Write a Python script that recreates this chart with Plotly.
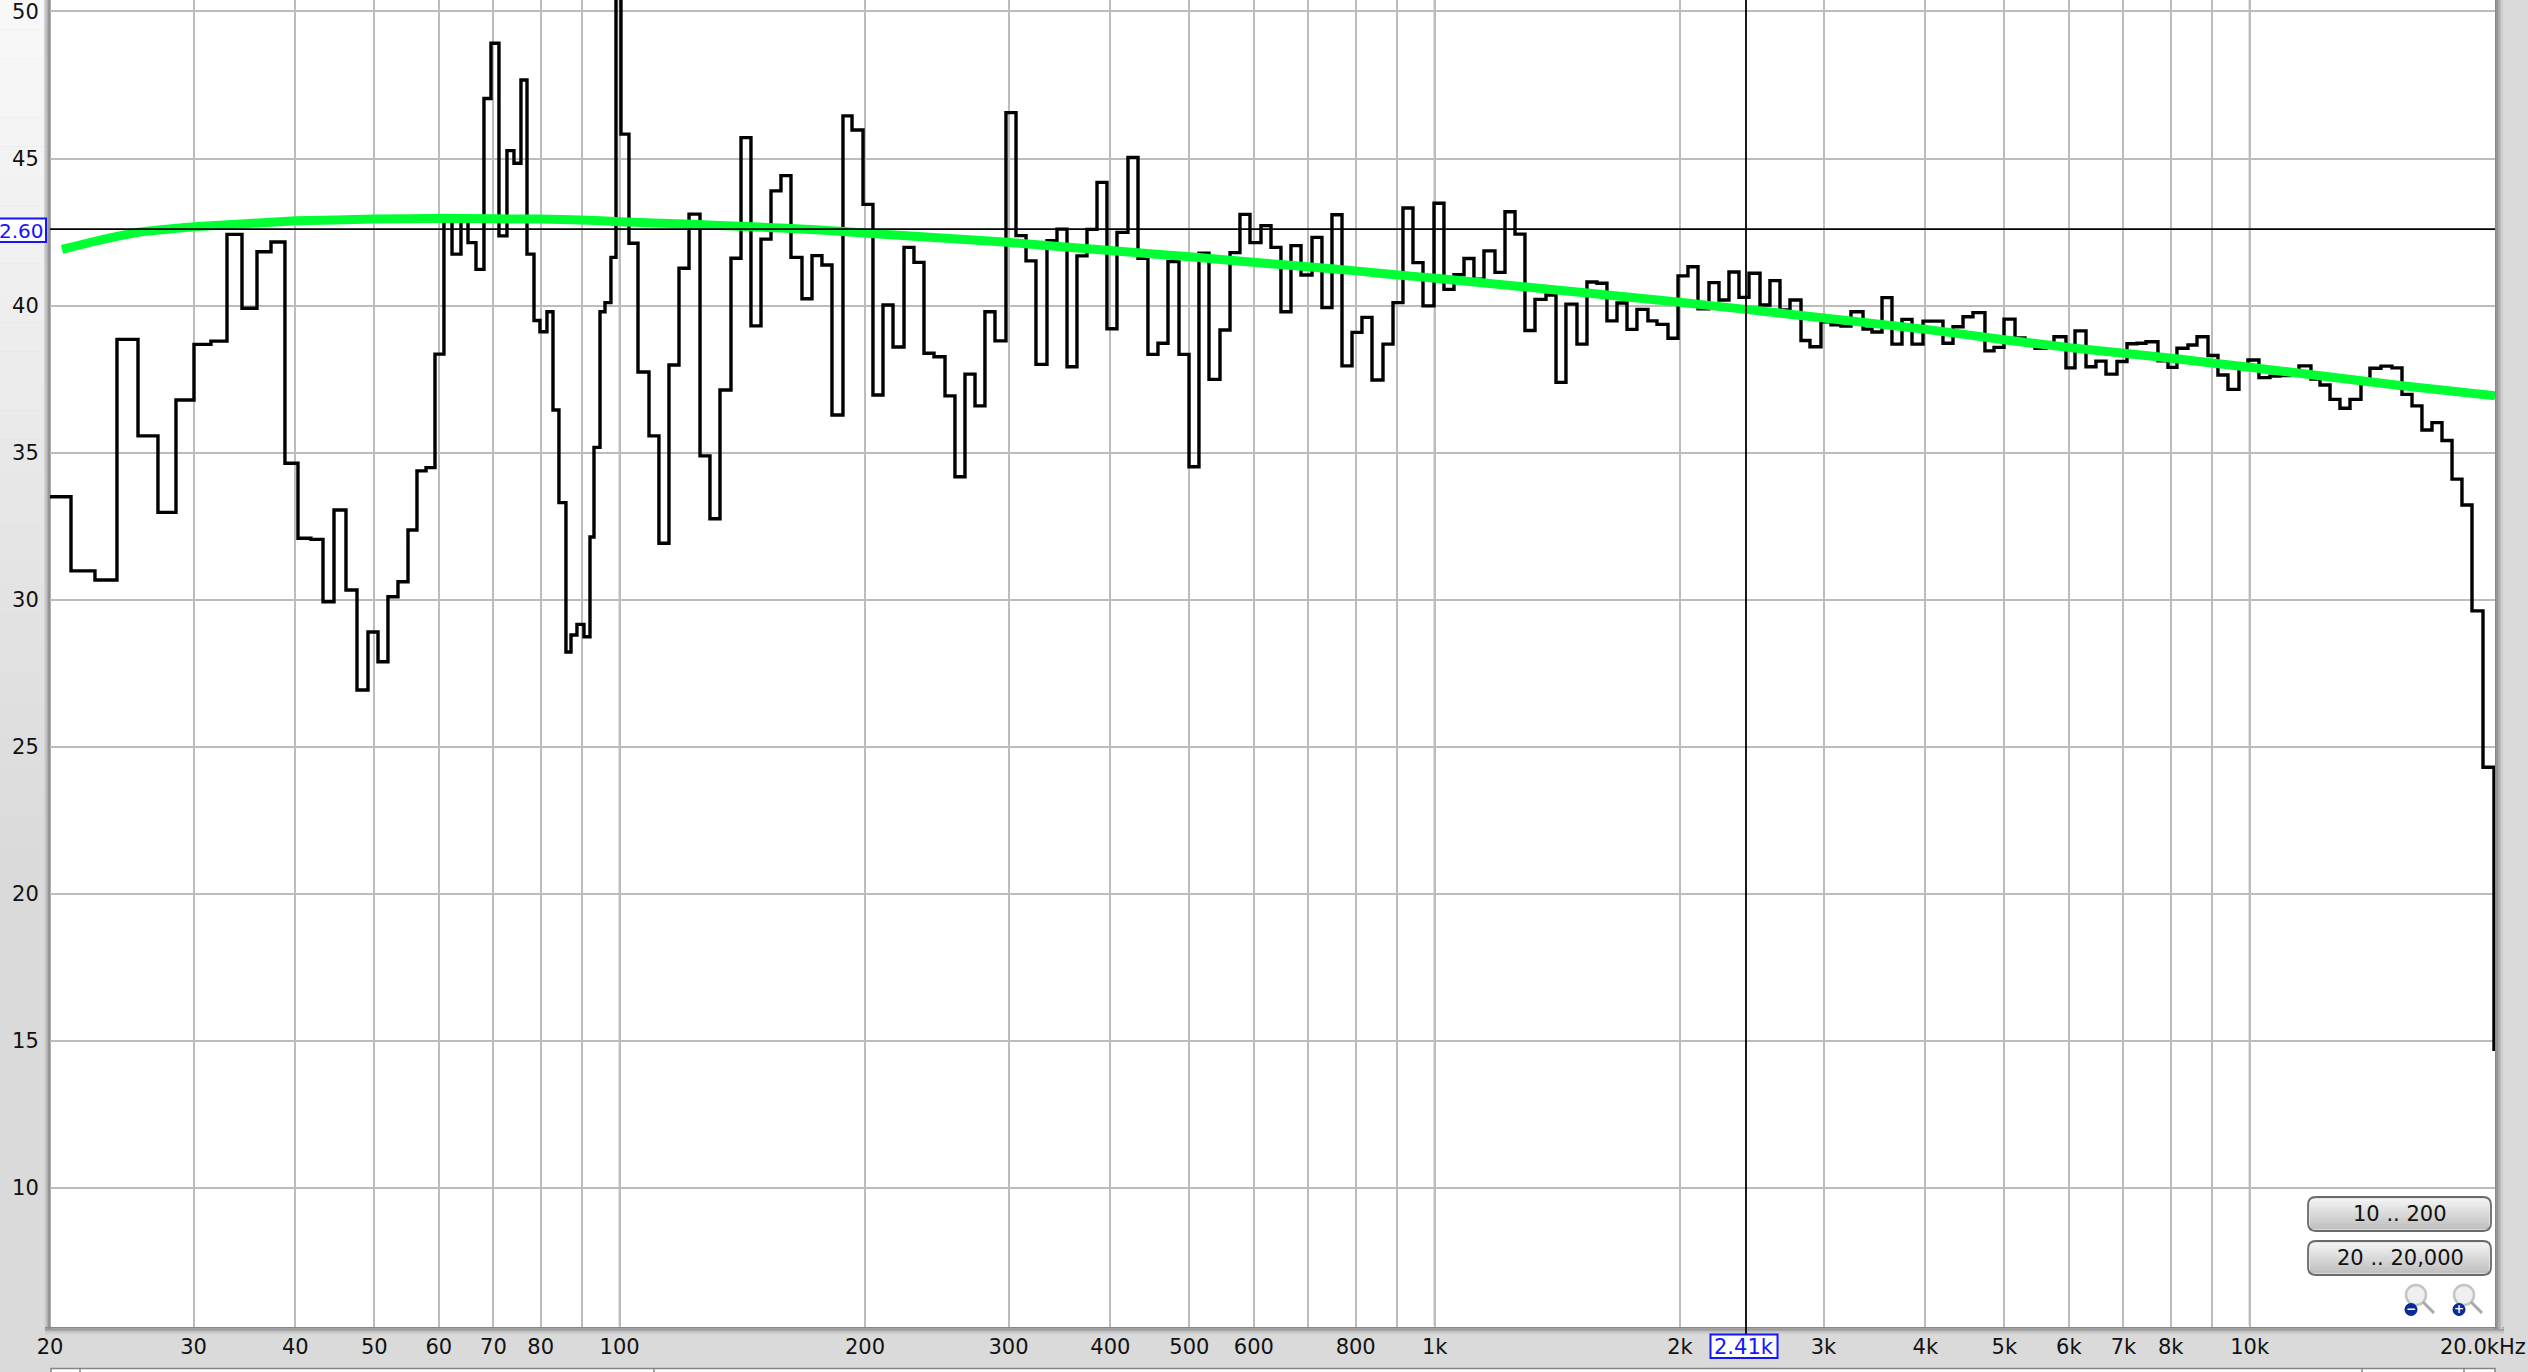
import numpy as np
import plotly.graph_objects as go

# ---------- data ----------
bin_edges_log10_hz = [
 1.3010,1.3268,1.3562,1.3832,1.4090,1.4335,1.4556,1.4777,1.4985,1.5182,
 1.5366,1.5550,1.5722,1.5893,1.6053,1.6212,1.6360,1.6495,1.6642,1.6777,
 1.6912,1.7035,1.7157,1.7280,1.7403,1.7513,1.7624,1.7734,1.7844,1.7943,
 1.8053,1.8139,1.8237,1.8335,1.8421,1.8519,1.8617,1.8703,1.8789,1.8863,
 1.8949,1.9022,1.9108,1.9182,1.9255,1.9341,1.9403,1.9476,1.9562,1.9636,
 1.9685,1.9759,1.9820,1.9893,1.9955,2.0016,2.0114,2.0225,2.0360,2.0482,
 2.0605,2.0728,2.0851,2.0986,2.1108,2.1231,2.1366,2.1489,2.1611,2.1734,
 2.1857,2.1979,2.2102,2.2237,2.2360,2.2482,2.2605,2.2740,2.2851,2.2986,
 2.3108,2.3231,2.3354,2.3489,2.3611,2.3734,2.3857,2.3992,2.4114,2.4237,
 2.4360,2.4482,2.4605,2.4740,2.4863,2.4986,2.5108,2.5243,2.5366,2.5489,
 2.5611,2.5734,2.5857,2.5979,2.6102,2.6237,2.6360,2.6482,2.6605,2.6728,
 2.6863,2.6986,2.7108,2.7231,2.7366,2.7489,2.7611,2.7734,2.7869,2.7992,
 2.8114,2.8237,2.8360,2.8495,2.8617,2.8740,2.8863,2.8986,2.9108,2.9231,
 2.9366,2.9489,2.9611,2.9734,2.9857,2.9992,3.0114,3.0237,3.0360,3.0482,
 3.0605,3.0740,3.0863,3.0986,3.1108,3.1231,3.1366,3.1489,3.1611,3.1746,
 3.1869,3.1992,3.2114,3.2237,3.2360,3.2482,3.2617,3.2728,3.2863,3.2986,
 3.3108,3.3231,3.3366,3.3489,3.3611,3.3734,3.3857,3.3992,3.4114,3.4237,
 3.4360,3.4495,3.4605,3.4740,3.4863,3.4986,3.5108,3.5256,3.5366,3.5489,
 3.5611,3.5734,3.5857,3.5992,3.6114,3.6237,3.6360,3.6483,3.6605,3.6752,
 3.6863,3.6986,3.7121,3.7243,3.7366,3.7501,3.7599,3.7746,3.7857,3.7992,
 3.8114,3.8237,3.8372,3.8495,3.8617,3.8728,3.8875,3.8998,3.9108,3.9243,
 3.9354,3.9489,3.9611,3.9734,3.9869,3.9979,4.0114,4.0249,4.0372,4.0495,
 4.0605,4.0752,4.0863,4.0986,4.1108,4.1231,4.1366,4.1476,4.1611,4.1746,
 4.1869,4.1992,4.2114,4.2237,4.2360,4.2483,4.2605,4.2728,4.2863,4.2998,
 4.3010]

bin_levels_db = [
 33.50,30.98,30.67,38.85,35.57,32.97,36.79,38.68,38.79,42.42,
 39.91,41.83,42.16,34.64,32.09,32.05,29.93,33.05,30.33,26.93,
 28.90,27.89,30.10,30.61,32.37,34.38,34.49,38.35,43.00,41.75,
 42.90,42.14,41.23,47.04,48.92,42.37,45.27,44.84,47.67,41.75,
 39.49,39.11,39.79,36.45,33.30,28.22,28.80,29.16,28.74,32.13,
 35.18,39.79,40.10,41.64,51.50,45.83,42.12,37.74,35.57,31.92,
 37.98,41.27,43.11,34.89,32.75,37.13,41.61,45.71,39.31,42.26,
 43.90,44.42,41.64,40.23,41.70,41.38,36.28,46.45,45.97,43.44,
 36.96,40.02,38.59,41.98,41.47,38.38,38.26,36.93,34.18,37.67,
 36.59,39.79,38.80,46.56,42.38,41.52,38.00,42.21,42.60,37.92,
 41.69,42.59,44.19,39.21,42.49,45.04,41.61,38.34,38.72,41.50,
 38.34,34.52,41.78,37.49,39.17,41.80,43.10,42.14,42.72,41.98,
 39.79,42.04,41.04,42.32,39.93,43.09,37.95,39.09,39.60,37.47,
 38.69,40.10,43.32,41.46,39.99,43.48,40.55,41.05,41.60,40.90,
 41.86,41.13,43.19,42.43,39.15,40.21,40.36,37.39,40.05,38.69,
 40.80,40.76,39.48,40.09,39.19,39.87,39.48,39.36,38.89,41.01,
 41.32,39.89,40.78,40.19,41.14,40.28,41.10,40.02,40.85,39.85,
 40.19,38.81,38.60,39.45,39.35,39.30,39.79,39.20,39.10,40.27,
 38.69,39.53,38.69,39.47,39.47,38.72,39.28,39.62,39.76,38.46,
 38.58,39.54,38.90,38.70,38.55,38.60,38.94,37.88,39.14,37.92,
 38.11,37.67,38.10,38.70,38.72,38.77,38.12,37.90,38.55,38.66,
 38.94,38.30,37.64,37.15,37.90,38.15,37.55,37.60,37.62,37.70,
 37.95,37.50,37.30,36.81,36.51,36.81,37.40,37.87,37.94,37.88,
 36.98,36.59,35.77,36.02,35.41,34.10,33.22,29.62,24.30,14.71]

trend_log10_hz = [1.3157,1.3538,1.4115,1.4777,1.6029,1.6986,1.7832,1.8458,1.9022,1.9538,2.0004,
 2.0826,2.1636,2.2458,2.3035,2.4765,2.6017,2.6998,2.7771,2.8446,2.9035,2.9550,3.0016,
 3.1084,3.1906,3.3010,3.3820,3.4777,3.6029,3.7010,3.7795,3.8458,3.9047,3.9562,4.0004,
 4.0789,4.1845,4.3010]
trend_db = [41.91,42.17,42.50,42.68,42.88,42.94,42.97,42.95,42.94,42.91,42.85,
 42.77,42.68,42.57,42.46,42.15,41.87,41.66,41.47,41.32,41.18,41.04,40.93,
 40.64,40.42,40.11,39.87,39.58,39.19,38.83,38.57,38.38,38.21,38.04,37.90,
 37.64,37.28,36.93]

x_grid_hz = [20,30,40,50,60,70,80,90,100,200,300,400,500,600,700,800,900,
             1000,2000,3000,4000,5000,6000,7000,8000,9000,10000]
x_tick_text = ["20","30","40","50","60","70","80","","100","200","300","400","500","600","",
               "800","","1k","2k","3k","4k","5k","6k","7k","8k","","10k"]
decade_hz = [100,1000,10000]
y_ticks_db = [10,15,20,25,30,35,40,45,50]
cursor_hz = 2410
cursor_db = 42.6
x_cursor_label = "2.41k"
y_cursor_label = "2.60"
x_end_label = "20.0kHz"
range_buttons = ["10 .. 200","20 .. 20,000"]

# ---------- layout geometry of the page ----------
W, H = 2528, 1372
L, R, B = 50, 2495, 1327
FONT = "DejaVu Sans"
def px(x): return (x-L)/(R-L)
def py(y): return (B-y)/B

shapes, annos = [], []
def rect(x0,y0,x1,y1,fill,line=None,lw=0,layer="below"):
    shapes.append(dict(type="rect",xref="paper",yref="paper",x0=px(x0),x1=px(x1),y0=py(y0),y1=py(y1),
        fillcolor=fill,line=dict(color=line or "rgba(0,0,0,0)",width=lw),layer=layer))
def grey(v):
    v=int(round(v)); return f"rgb({v},{v},{v})"

# lighter gradient in the left strip
n=30
for i in range(n):
    t=i/(n-1)
    rect(0,t*850,45,(t+1/n)*850+1,grey(248-(248-218)*t))
# plot shadow
for i,v in enumerate([212,196,176,150,136]):
    rect(44+i*1.3,0,44+(i+1)*1.3+.2,B+2,grey(v))
for i,v in enumerate([136,150,170,190,208]):
    rect(45,B+i*1.4,2504,B+(i+1)*1.4+.2,grey(v))
for i,v in enumerate([136,150,170,190,208]):
    rect(R+i*1.6,0,R+(i+1)*1.6+.2,B+2,grey(v))
# strip of the next panel at the very bottom
rect(51,1368.5,2495,1373,"white","#858585",1.5)
for xs in [80,654,2362,2464]:
    shapes.append(dict(type="line",xref="paper",yref="paper",x0=px(xs),x1=px(xs),y0=py(1368),y1=py(1373),
                       line=dict(color="#858585",width=1.5),layer="below"))

# darker decade lines
for d in decade_hz:
    shapes.append(dict(type="line",xref="x",yref="paper",x0=d,x1=d,y0=0.0015,y1=1,line=dict(color="#8a8a8a",width=1.8),layer="below"))
# cursors
shapes.append(dict(type="line",xref="paper",yref="y",x0=0,x1=1,y0=cursor_db,y1=cursor_db,line=dict(color="black",width=1.8),layer="above"))
shapes.append(dict(type="line",xref="x",yref="paper",x0=cursor_hz,x1=cursor_hz,y0=py(1335),y1=1,line=dict(color="black",width=1.8),layer="above"))

# cursor boxes
BLUE="#1414ff"
rect(-1,218.5,46,242,"white",BLUE,2,"above")
annos.append(dict(xref="paper",yref="paper",x=px(46),y=py(230.5),text=y_cursor_label,showarrow=False,xanchor="right",yanchor="middle",
                  font=dict(family=FONT,size=20,color=BLUE)))
rect(1710.5,1334.5,1777.5,1358,"white",BLUE,2,"above")
annos.append(dict(xref="paper",yref="paper",x=px(1744),y=py(1347),text=x_cursor_label,showarrow=False,xanchor="center",yanchor="middle",
                  font=dict(family=FONT,size=21,color=BLUE)))
annos.append(dict(xref="paper",yref="paper",x=px(2528),y=py(1347),text=x_end_label,showarrow=False,xanchor="right",yanchor="middle",
                  font=dict(family=FONT,size=21,color="#111111")))

# buttons
def rounded(x0,y0,x1,y1,r=8):
    return (f"M{px(x0+r)},{py(y0)} L{px(x1-r)},{py(y0)} Q{px(x1)},{py(y0)} {px(x1)},{py(y0+r)} "
            f"L{px(x1)},{py(y1-r)} Q{px(x1)},{py(y1)} {px(x1-r)},{py(y1)} L{px(x0+r)},{py(y1)} "
            f"Q{px(x0)},{py(y1)} {px(x0)},{py(y1-r)} L{px(x0)},{py(y0+r)} Q{px(x0)},{py(y0)} {px(x0+r)},{py(y0)} Z")
for (y0,y1),label in zip([(1197,1231),(1241,1275)],range_buttons):
    shapes.append(dict(type="path",xref="paper",yref="paper",path=rounded(2308,y0,2491,y1),fillcolor="#e4e4e4",line=dict(width=0),layer="above"))
    m=12
    for i in range(m):
        t=i/(m-1)
        rect(2310,y0+2+(y1-y0-4)*i/m,2489,y0+2+(y1-y0-4)*(i+1)/m+.3,grey(242-(242-192)*t),layer="above")
    shapes.append(dict(type="path",xref="paper",yref="paper",path=rounded(2308,y0,2491,y1),fillcolor="rgba(0,0,0,0)",line=dict(color="#6a6a6a",width=1.8),layer="above"))
    annos.append(dict(xref="paper",yref="paper",x=px(2400),y=py((y0+y1)/2),text=label,showarrow=False,xanchor="center",yanchor="middle",
                      font=dict(family=FONT,size=21,color="#111111")))

# zoom icons
for cx,sign in [(2411,"−"),(2459,"+")]:
    shapes.append(dict(type="circle",xref="paper",yref="paper",x0=px(cx-5),x1=px(cx+15),y0=py(1285),y1=py(1305),
                       fillcolor="#efeff2",line=dict(color="#c4c4c4",width=2.5),layer="above"))
    shapes.append(dict(type="line",xref="paper",yref="paper",x0=px(cx+12),x1=px(cx+23),y0=py(1302),y1=py(1313),
                       line=dict(color="#a8a8a8",width=3),layer="above"))
    shapes.append(dict(type="circle",xref="paper",yref="paper",x0=px(cx-6.5),x1=px(cx+6.5),y0=py(1303),y1=py(1316),
                       fillcolor="#0b2a96",line=dict(width=0),layer="above"))
    annos.append(dict(xref="paper",yref="paper",x=px(cx),y=py(1309),text=f"<b>{sign}</b>",showarrow=False,xanchor="center",yanchor="middle",
                      font=dict(family=FONT,size=12,color="white")))

freq_edges = 10**np.array(bin_edges_log10_hz)
step_y = list(bin_levels_db)+[bin_levels_db[-1]]
trend_hz = 10**np.array(trend_log10_hz)

fig = go.Figure()
fig.add_trace(go.Scatter(x=freq_edges,y=step_y,mode="lines",line=dict(color="black",width=3.4,shape="hv"),showlegend=False,hoverinfo="skip"))
fig.add_trace(go.Scatter(x=trend_hz,y=trend_db,mode="lines",line=dict(color="#00ff33",width=9,shape="spline",smoothing=0.3),showlegend=False,hoverinfo="skip"))

fig.update_layout(
    width=W,height=H,autosize=False,
    margin=dict(l=L,r=W-R,t=0,b=H-B,pad=0),
    paper_bgcolor="#dadada",plot_bgcolor="white",
    font=dict(family=FONT,size=21,color="#111111"),
    shapes=shapes,annotations=annos,showlegend=False,
    xaxis=dict(type="log",range=[np.log10(20),np.log10(20000)],tickmode="array",tickvals=x_grid_hz,ticktext=x_tick_text,
               showgrid=True,gridcolor="#bcbcbc",gridwidth=1.7,zeroline=False,showline=False,
               ticks="outside",ticklen=1,tickcolor="rgba(0,0,0,0)",tickangle=0,
               tickfont=dict(family=FONT,size=21,color="#111111")),
    yaxis=dict(range=[5.27,50.39],tickmode="array",tickvals=y_ticks_db,ticktext=[str(v) for v in y_ticks_db],
               showgrid=True,gridcolor="#bcbcbc",gridwidth=1.7,zeroline=False,showline=False,
               ticks="outside",ticklen=6,tickcolor="rgba(0,0,0,0)",ticklabeloverflow="allow",
               tickfont=dict(family=FONT,size=21,color="#111111")),
)
fig.write_html("out.html",config=dict(displayModeBar=False),
               post_script="document.body.style.margin='0';document.documentElement.style.overflow='hidden';")
